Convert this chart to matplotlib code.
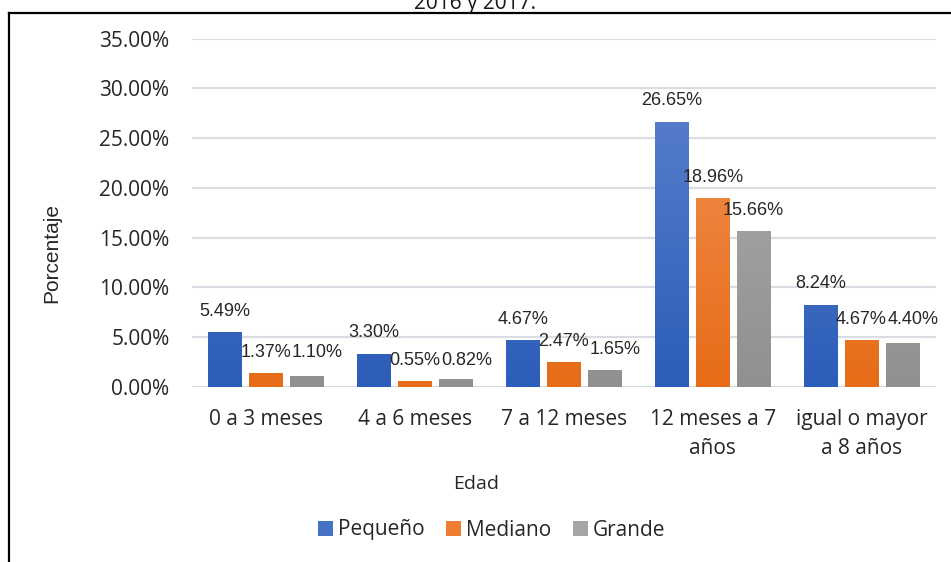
import numpy as np
import matplotlib
matplotlib.use("Agg")
import matplotlib.pyplot as plt
from matplotlib.lines import Line2D
from matplotlib.patches import Patch

categories = ["0 a 3 meses", "4 a 6 meses", "7 a 12 meses", "12 meses a 7\naños", "igual o mayor\na 8 años"]
series_names = ["Pequeño", "Mediano", "Grande"]
pequeno = [5.49, 3.30, 4.67, 26.65, 8.24]
mediano = [1.37, 0.55, 2.47, 18.96, 4.67]
grande = [1.10, 0.82, 1.65, 15.66, 4.40]
yticks = [0, 5, 10, 15, 20, 25, 30, 35]

values = [pequeno, mediano, grande]
top_colors = ["#6185CF", "#F3975E", "#B2B2B2"]
bot_colors = ["#2C5DB9", "#E66C17", "#909090"]
mid_colors = ["#4472C4", "#ED7D31", "#A5A5A5"]

fig = plt.figure(figsize=(9.51, 5.62), dpi=100)
ax = fig.add_axes([0.2016, 0.3119, 0.7826, 0.6192])

x = np.arange(len(categories))
bw = 0.228
step = 0.275

def hex2rgb(h):
    h = h.lstrip("#")
    return np.array([int(h[i:i+2], 16) / 255 for i in (0, 2, 4)])

for i, vals in enumerate(values):
    offs = (i - 1) * step
    bars = ax.bar(x + offs, vals, width=bw, color=mid_colors[i], zorder=2)
    c1, c2 = hex2rgb(top_colors[i]), hex2rgb(bot_colors[i])
    grad = np.linspace(0, 1, 256)[:, None]
    img = c1[None, None, :] * (1 - grad[..., None]) + c2[None, None, :] * grad[..., None]
    for j, (b, v) in enumerate(zip(bars, vals)):
        x0 = b.get_x()
        im = ax.imshow(img, extent=(x0, x0 + bw, 0, 35), aspect="auto",
                       origin="upper", zorder=3, interpolation="bilinear")
        im.set_clip_path(b)
        dx, dy = 0, 9
        # avoid collision with the neighbouring label (as the original layout does)
        if i == 2 and abs(v - mediano[j]) < 1.0:
            dx = 7.5
            if abs(v - mediano[j]) < 0.5:
                dy = 9 + (mediano[j] - v) * 7.1
        ax.annotate(f"{v:.2f}%", (x0 + bw / 2, v), xytext=(dx, dy),
                    textcoords="offset points", ha="center", va="bottom",
                    fontsize=13, family="Liberation Sans", color="#262626",
                    zorder=5)

ax.set_xlim(-0.5, len(categories) - 0.5)
ax.set_ylim(0, 35)
ax.set_yticks(yticks)
ax.set_yticklabels([f"{t:.2f}%" for t in yticks], family="Open Sans", fontsize=15, color="#262626")
ax.set_xticks(x)
ax.set_xticklabels(categories, family="Open Sans", fontsize=15, color="#262626", linespacing=1.5)
ax.tick_params(axis="both", length=0)
ax.tick_params(axis="y", pad=16)
ax.tick_params(axis="x", pad=16)
for s in ax.spines.values():
    s.set_visible(False)
ax.grid(axis="y", color="#D9DDE3", lw=1.6, zorder=0)
ax.set_axisbelow(True)
ax.set_facecolor("none")

fig.text(0.0547, 1 - 253 / 562, "Porcentaje", rotation=90, ha="center", va="center",
         family="Liberation Sans", fontsize=15, color="#262626")
fig.text(0.5005, 1 - 484 / 562, "Edad", ha="center", va="center",
         family="Open Sans", fontsize=14, color="#262626")
fig.text(0.4995, 1 - 9.5 / 562, "2016 y 2017.", ha="center", va="baseline",
         family="Open Sans", fontsize=15, color="#1a1a1a")

handles = [Patch(facecolor=c, edgecolor="none") for c in mid_colors]
fig.legend(handles, series_names, loc="center", bbox_to_anchor=(0.517, 1 - 530 / 562),
           ncol=3, frameon=False, prop={"family": "Open Sans", "size": 15},
           handlelength=0.7, handleheight=0.7, handletextpad=0.25, columnspacing=1.05,
           labelcolor="#262626")

fig.add_artist(Line2D([9 / 951, 9 / 951], [0, 1 - 13 / 562], color="black", lw=1.6,
                      transform=fig.transFigure))
fig.add_artist(Line2D([9 / 951, 1], [1 - 13 / 562, 1 - 13 / 562], color="black", lw=1.6,
                      transform=fig.transFigure))

fig.savefig("out.png", dpi=100, facecolor="white")
